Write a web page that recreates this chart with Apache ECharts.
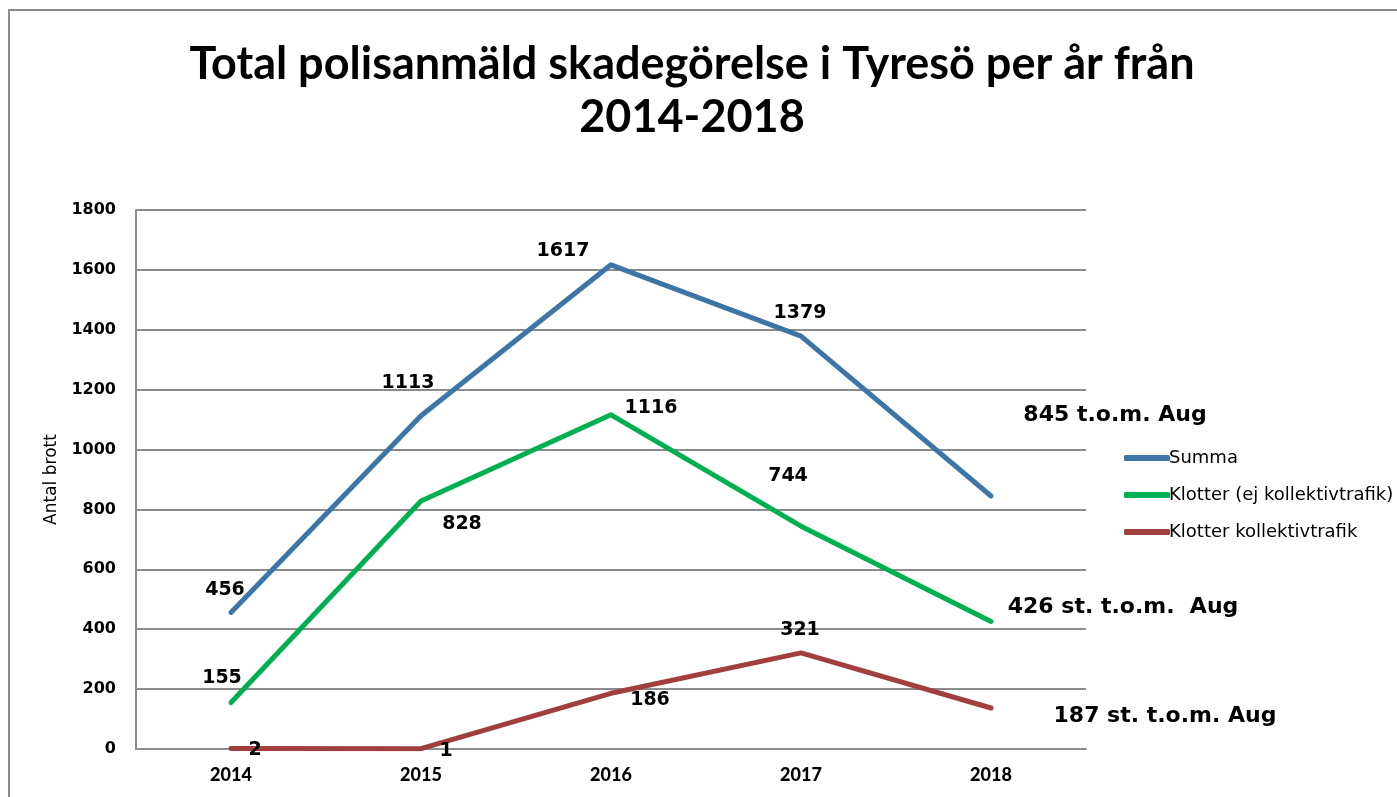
<!DOCTYPE html>
<html><head><meta charset="utf-8">
<script src="https://cdn.jsdelivr.net/npm/echarts@6/dist/echarts.min.js"></script>
<style>html,body{margin:0;padding:0;background:#fff}#c{width:1397px;height:797px}</style>
</head><body><div id="c"></div>
<script>
const years = ['2014','2015','2016','2017','2018'];
const seriesNames = ['Summa','Klotter (ej kollektivtrafik)','Klotter kollektivtrafik'];
const summa = [456, 1113, 1617, 1379, 845];
const klotter = [155, 828, 1116, 744, 426];
const kollektiv = [2, 1, 186, 321, 137];
const summaLabels = ['456','1113','1617','1379','845 t.o.m. Aug'];
const klotterLabels = ['155','828','1116','744','426 st. t.o.m.  Aug'];
const kollektivLabels = ['2','1','186','321','187 st. t.o.m. Aug'];
const yTicks = [0,200,400,600,800,1000,1200,1400,1600,1800];

// label offsets (style only)
const summaOff = [[-6,-22],[-13,-33],[-48,-14],[-1,-23],[124,-81]];
const klotterOff = [[-9,-25],[41,23],[40,-7],[-13,-50],[132,-14]];
const kollektivOff = [[24,2],[25,2],[39,7],[-1,-23],[174,8]];

const colors = ['#3D75A7','#00B050','#A03F3E'];
const LF = 'DejaVu Sans';

function build(vals, labels, offs){
  return vals.map((v,i)=>({
    value: v,
    label: {
      show: true, position: 'inside', align: 'center', verticalAlign: 'middle',
      offset: offs[i], formatter: labels[i],
      fontFamily: LF, fontWeight: 'bold',
      fontSize: i === 4 ? 22 : 19, color: '#000'
    }
  }));
}

const chart = echarts.init(document.getElementById('c'), null, {renderer:'canvas'});
const mk = (name, vals, labels, offs, c) => ({
  name, type: 'line', data: build(vals, labels, offs),
  symbol: 'circle', symbolSize: 1, showSymbol: true,
  itemStyle: {color: c},
  lineStyle: {color: c, width: 5, cap: 'round', join: 'round'},
  emphasis: {disabled: true}, animation: false
});
chart.setOption({
  animation: false,
  color: colors,
  title: {
    text: 'Total polisanmäld skadegörelse i Tyresö per år från\n2014-2018',
    left: 687, top: 33, textAlign: 'center',
    textStyle: {fontFamily: 'Lato', fontWeight: 'bold', fontSize: 45, lineHeight: 53, color: '#000'}
  },
  graphic: [{
    type: 'rect', shape: {x: 9, y: 10, width: 2000, height: 2000},
    style: {fill: 'none', stroke: '#8c8c8c', lineWidth: 2}, silent: true, z: 100
  }],
  legend: {
    orient: 'vertical', left: 1119, top: 444, itemGap: 19,
    itemWidth: 46, itemHeight: 6, icon: 'roundRect',
    textStyle: {fontFamily: LF, fontSize: 18, color: '#000', padding: [0,0,0,-6]},
    data: seriesNames.map((n,i)=>({name: n, itemStyle: {color: colors[i]}}))
  },
  grid: {left: 136, right: 311, top: 210, bottom: 48},
  xAxis: {
    type: 'category', data: years, boundaryGap: true,
    axisLine: {lineStyle: {color: '#8c8c8c', width: 2}},
    axisTick: {show: false},
    axisLabel: {fontFamily: 'Lato', fontWeight: 900, fontSize: 18, color: '#000', margin: 17}
  },
  yAxis: {
    type: 'value', min: 0, max: 1800, interval: 200,
    name: 'Antal brott', nameLocation: 'middle', nameGap: 69, nameRotate: 90,
    nameTextStyle: {fontFamily: LF, fontSize: 17, color: '#000'},
    axisLine: {show: true, lineStyle: {color: '#8c8c8c', width: 2}},
    axisTick: {show: false},
    splitLine: {lineStyle: {color: '#8c8c8c', width: 2}},
    axisLabel: {fontFamily: LF, fontWeight: 'bold', fontSize: 16, color: '#000', margin: 20,
      formatter: v => yTicks.includes(v) ? String(v) : ''}
  },
  series: [
    mk(seriesNames[0], summa, summaLabels, summaOff, colors[0]),
    mk(seriesNames[1], klotter, klotterLabels, klotterOff, colors[1]),
    mk(seriesNames[2], kollektiv, kollektivLabels, kollektivOff, colors[2])
  ]
});
</script></body></html>
